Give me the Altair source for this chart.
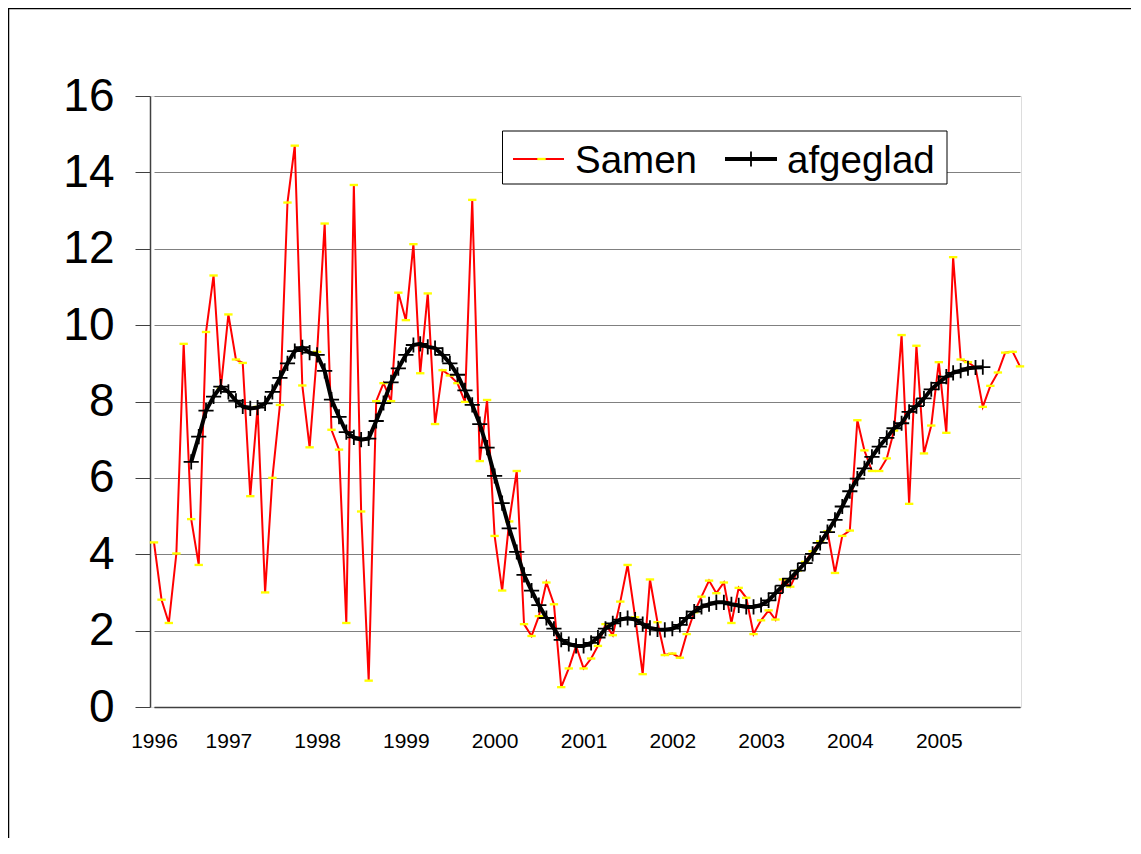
import altair as alt
import pandas as pd

# monthly categories, March 1996 .. December 2005
months = pd.date_range("1996-03-01", periods=118, freq="MS")

samen = [
    4.31, 2.81, 2.20, 4.02, 9.51, 4.92, 3.72, 9.82, 11.30, 8.35,
    10.28, 9.10, 9.01, 5.52, 7.86, 3.00, 6.00, 7.91, 13.21, 14.70,
    8.42, 6.80, 9.30, 12.66, 7.26, 6.74, 2.20, 13.67, 5.12, 0.69,
    8.01, 8.48, 8.01, 10.85, 10.13, 12.12, 8.74, 10.83, 7.41, 8.82,
    8.68, 8.48, 7.99, 13.28, 6.44, 8.04, 4.48, 3.05, 4.86, 6.18,
    2.17, 1.86, 2.38, 3.26, 2.69, 0.52, 1.01, 1.60, 1.01, 1.27,
    1.60, 2.17, 1.88, 2.76, 3.72, 2.35, 0.86, 3.34, 2.22, 1.36,
    1.40, 1.29, 1.91, 2.48, 2.89, 3.31, 2.98, 3.26, 2.20, 3.12,
    2.86, 1.91, 2.27, 2.53, 2.29, 3.34, 3.15, 3.57, 3.80, 4.08,
    4.34, 4.60, 3.51, 4.48, 4.62, 7.51, 6.72, 6.18, 6.18, 6.51,
    7.24, 9.74, 5.32, 9.46, 6.64, 7.37, 9.03, 7.18, 11.78, 9.10,
    9.03, 8.89, 7.86, 8.41, 8.76, 9.28, 9.30, 8.92,
]

# smoothed series, from the 6th to the 113th month
afgeglad = [
    6.42, 7.08, 7.76, 8.13, 8.39, 8.25, 8.02, 7.87, 7.82, 7.84,
    7.95, 8.25, 8.62, 9.00, 9.32, 9.42, 9.28, 9.22, 8.80, 8.05,
    7.60, 7.20, 7.06, 7.00, 7.03, 7.49, 7.96, 8.50, 8.87, 9.22,
    9.48, 9.51, 9.43, 9.40, 9.22, 9.00, 8.70, 8.29, 7.91, 7.41,
    6.79, 6.05, 5.34, 4.68, 4.06, 3.46, 3.05, 2.67, 2.33, 2.05,
    1.76, 1.65, 1.60, 1.60, 1.68, 1.82, 2.05, 2.19, 2.29, 2.33,
    2.29, 2.17, 2.07, 2.03, 2.02, 2.05, 2.15, 2.33, 2.50, 2.62,
    2.69, 2.74, 2.74, 2.69, 2.66, 2.62, 2.62, 2.67, 2.79, 2.98,
    3.18, 3.36, 3.57, 3.77, 4.01, 4.30, 4.58, 4.90, 5.25, 5.65,
    5.98, 6.25, 6.55, 6.82, 7.05, 7.30, 7.43, 7.73, 7.88, 8.08,
    8.32, 8.49, 8.65, 8.75, 8.81, 8.87, 8.89, 8.90,
]
afg_start = 5

series_names = ["Samen", "afgeglad"]
series_colors = ["#FF0000", "#000000"]
series_widths = [2, 4]

year_labels = ["1996", "1997", "1998", "1999", "2000",
               "2001", "2002", "2003", "2004", "2005"]
year_tick_months = [3, 1, 1, 1, 1, 1, 1, 1, 1, 1]

df_s = pd.DataFrame({"date": months, "value": samen, "series": series_names[0]})
df_a = pd.DataFrame({"date": months[afg_start:afg_start + len(afgeglad)],
                     "value": afgeglad, "series": series_names[1]})

FONT = "Liberation Sans"
W, H = 871, 611

tick_values = [alt.DateTime(year=int(y), month=m, date=1)
               for y, m in zip(year_labels, year_tick_months)]

x_enc = alt.X(
    "date:T",
    scale=alt.Scale(domain=[alt.DateTime(year=1996, month=3, date=1),
                            alt.DateTime(year=2005, month=12, date=1)],
                    range=[4, W - 1]),
    axis=alt.Axis(values=tick_values, format="%Y", title=None, grid=False,
                  ticks=False, labelFlush=False, labelOverlap=False,
                  labelFontSize=21, labelFont=FONT, labelColor="#000000",
                  labelPadding=23, domainColor="#404040", domainWidth=1.5),
)
y_enc = alt.Y(
    "value:Q",
    scale=alt.Scale(domain=[0, 16], nice=False),
    axis=alt.Axis(values=list(range(0, 17, 2)), title=None, grid=True,
                  gridColor="#808080", gridWidth=1, tickSize=15,
                  tickColor="#404040", domainColor="#404040", domainWidth=1.5,
                  labelFontSize=46, labelFont=FONT, labelColor="#000000",
                  labelPadding=21),
)

color_enc = alt.Color("series:N",
                      scale=alt.Scale(domain=series_names, range=series_colors),
                      legend=None)
width_enc = alt.StrokeWidth("series:N",
                            scale=alt.Scale(domain=series_names, range=series_widths),
                            legend=None)

DASH = "M-1,-0.28H1V0.28H-1Z"
PLUS = "M-1,0H1M0,-1V1"

red_line = alt.Chart(df_s).mark_line(interpolate="linear").encode(
    x=x_enc, y=y_enc, color=color_enc, strokeWidth=width_enc)
red_pts = alt.Chart(df_s).mark_point(
    shape=DASH, filled=True, fill="#FFFF00", size=70,
    strokeWidth=0, opacity=1).encode(x="date:T", y="value:Q")
blk_line = alt.Chart(df_a).mark_line().encode(
    x="date:T", y="value:Q", color=color_enc, strokeWidth=width_enc)
blk_pts = alt.Chart(df_a).mark_point(
    shape=PLUS, filled=False, stroke="#000000", size=230,
    strokeWidth=1.8, opacity=1).encode(x="date:T", y="value:Q")

# ---- legend (drawn as a boxed key, in pixel space of the plot) ----
one = pd.DataFrame({"k": [0]})
leg_box = alt.Chart(one).mark_rect(fill="#FFFFFF", stroke="#000000", strokeWidth=1).encode(
    x=alt.value(352.5), x2=alt.value(797), y=alt.value(35), y2=alt.value(88))
leg_red = alt.Chart(one).mark_rule(color=series_colors[0], strokeWidth=series_widths[0]).encode(
    x=alt.value(363), x2=alt.value(414), y=alt.value(63))
leg_dash = alt.Chart(one).mark_point(
    shape=DASH, filled=True, fill="#FFFF00", size=70, strokeWidth=0, opacity=1
).encode(x=alt.value(391.5), y=alt.value(63))
leg_txt1 = alt.Chart(one).mark_text(
    text=series_names[0], font=FONT, fontSize=38.5, color="#000000",
    align="left", baseline="alphabetic").encode(x=alt.value(425), y=alt.value(77))
leg_blk = alt.Chart(one).mark_rule(color=series_colors[1], strokeWidth=series_widths[1]).encode(
    x=alt.value(575), x2=alt.value(627), y=alt.value(63))
leg_plus = alt.Chart(one).mark_point(
    shape=PLUS, filled=False, stroke="#000000", size=230, strokeWidth=1.8, opacity=1
).encode(x=alt.value(601), y=alt.value(63))
leg_txt2 = alt.Chart(one).mark_text(
    text=series_names[1], font=FONT, fontSize=38.5, color="#000000",
    align="left", baseline="alphabetic").encode(x=alt.value(637), y=alt.value(77))

# outer chart border
frame_left = alt.Chart(one).mark_rule(color="#000000", strokeWidth=1.5).encode(
    x=alt.value(-141.5), y=alt.value(-88), y2=alt.value(742))
frame_top = alt.Chart(one).mark_rule(color="#000000", strokeWidth=1.5).encode(
    x=alt.value(-142), x2=alt.value(985), y=alt.value(-87.5))

chart = alt.layer(
    red_line, red_pts, blk_line, blk_pts,
    leg_box, leg_red, leg_dash, leg_txt1, leg_blk, leg_plus, leg_txt2,
    frame_left, frame_top,
).properties(
    width=W, height=H,
    autosize=alt.AutoSizeParams(type="none"),
    padding={"left": 142, "top": 88, "right": 110, "bottom": 138},
).configure_view(stroke="#808080", strokeWidth=1).configure(background="#FFFFFF")

chart.save("out.html", embed_options={"renderer": "svg", "actions": False})
